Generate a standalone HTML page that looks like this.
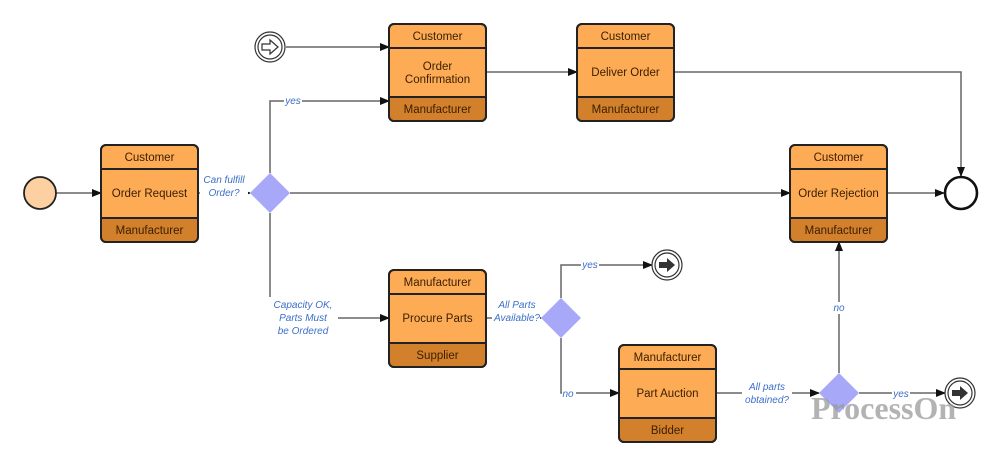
<!DOCTYPE html>
<html><head><meta charset="utf-8"><style>
html,body{margin:0;padding:0;background:#fff;}
svg{display:block;}
.t{font-family:"Liberation Sans",sans-serif;font-size:11.5px;fill:#3a1e00;text-anchor:middle;}
.l{font-family:"Liberation Sans",sans-serif;font-size:10px;fill:#3b6fc8;font-style:italic;text-anchor:middle;}
.e{stroke:#666;stroke-width:1.5;fill:none;}
</style></head><body>
<svg width="1000" height="466" viewBox="0 0 1000 466" xmlns="http://www.w3.org/2000/svg">
<defs>
<marker id="a" markerWidth="10" markerHeight="8" refX="9" refY="4" orient="auto" markerUnits="userSpaceOnUse">
<path d="M0,0 L10,4 L0,8 z" fill="#111"/></marker>
<g id="box">
<rect x="0" y="0" width="97" height="97" rx="5" fill="#fdab55" stroke="#222" stroke-width="2"/>
<path d="M1,73 H96 V92 Q96,96 92,96 H5 Q1,96 1,92 Z" fill="#d2802c"/>
<rect x="0" y="0" width="97" height="97" rx="5" fill="none" stroke="#222" stroke-width="2"/>
<line x1="0" y1="24" x2="97" y2="24" stroke="#222" stroke-width="2"/>
<line x1="0" y1="73" x2="97" y2="73" stroke="#222" stroke-width="2"/>
</g>
</defs>

<path class="e" d="M56,193 H101" marker-end="url(#a)"/>
<path class="e" d="M197,193 H250" marker-end="url(#a)"/>
<path class="e" d="M270,173 V101 H389" marker-end="url(#a)"/>
<path class="e" d="M290,193 H790" marker-end="url(#a)"/>
<path class="e" d="M270,213 V318 H389" marker-end="url(#a)"/>
<path class="e" d="M286,47 H389" marker-end="url(#a)"/>
<path class="e" d="M486,72 H577" marker-end="url(#a)"/>
<path class="e" d="M674,72 H961 V176" marker-end="url(#a)"/>
<path class="e" d="M886,193 H944" marker-end="url(#a)"/>
<path class="e" d="M486,318 H541" marker-end="url(#a)"/>
<path class="e" d="M561,298 V265 H652" marker-end="url(#a)"/>
<path class="e" d="M561,338 V393 H619" marker-end="url(#a)"/>
<path class="e" d="M716,393 H819" marker-end="url(#a)"/>
<path class="e" d="M839,373 V242" marker-end="url(#a)"/>
<path class="e" d="M859,393 H945" marker-end="url(#a)"/>

<rect x="200" y="172" width="48" height="26" fill="#fff"/>
<text class="l" x="224" y="183">Can fulfill</text><text class="l" x="224" y="196">Order?</text>
<rect x="284" y="95" width="18" height="11" fill="#fff"/><text class="l" x="293" y="104">yes</text>
<rect x="268" y="297" width="70" height="40" fill="#fff"/>
<text class="l" x="303" y="308">Capacity OK,</text><text class="l" x="303" y="321">Parts Must</text><text class="l" x="303" y="334">be Ordered</text>
<rect x="492" y="297" width="48" height="26" fill="#fff"/>
<text class="l" x="517" y="308">All Parts</text><text class="l" x="517" y="321">Available?</text>
<rect x="581" y="259" width="18" height="11" fill="#fff"/><text class="l" x="590" y="268">yes</text>
<rect x="562" y="388" width="14" height="11" fill="#fff"/><text class="l" x="568" y="397">no</text>
<rect x="742" y="380" width="50" height="26" fill="#fff"/>
<text class="l" x="767" y="390">All parts</text><text class="l" x="767" y="403">obtained?</text>
<rect x="832" y="302" width="14" height="12" fill="#fff"/><text class="l" x="839" y="311">no</text>
<rect x="892" y="388" width="18" height="11" fill="#fff"/><text class="l" x="901" y="397">yes</text>

<use href="#box" x="101" y="145"/>
<text class="t" x="149.5" y="161">Customer</text><text class="t" x="149.5" y="197">Order Request</text><text class="t" x="149.5" y="234">Manufacturer</text>
<use href="#box" x="389" y="24"/>
<text class="t" x="437.5" y="40">Customer</text><text class="t" x="437.5" y="70">Order</text><text class="t" x="437.5" y="83">Confirmation</text><text class="t" x="437.5" y="113">Manufacturer</text>
<use href="#box" x="577" y="24"/>
<text class="t" x="625.5" y="40">Customer</text><text class="t" x="625.5" y="76">Deliver Order</text><text class="t" x="625.5" y="113">Manufacturer</text>
<use href="#box" x="790" y="145"/>
<text class="t" x="838.5" y="161">Customer</text><text class="t" x="838.5" y="197">Order Rejection</text><text class="t" x="838.5" y="234">Manufacturer</text>
<use href="#box" x="389" y="270"/>
<text class="t" x="437.5" y="286">Manufacturer</text><text class="t" x="437.5" y="322">Procure Parts</text><text class="t" x="437.5" y="359">Supplier</text>
<use href="#box" x="619" y="345"/>
<text class="t" x="667.5" y="361">Manufacturer</text><text class="t" x="667.5" y="397">Part Auction</text><text class="t" x="667.5" y="434">Bidder</text>

<path d="M270,173 L290,193 L270,213 L250,193 Z" fill="#a8a8f8"/>
<path d="M561,298 L581,318 L561,338 L541,318 Z" fill="#a8a8f8"/>
<path d="M839,373 L859,393 L839,413 L819,393 Z" fill="#a8a8f8"/>

<circle cx="40" cy="193" r="16" fill="#fdd0a2" stroke="#222" stroke-width="1.8"/>
<circle cx="961" cy="193" r="16" fill="#fff" stroke="#111" stroke-width="2.6"/>
<circle cx="270" cy="47" r="15" fill="#fff" stroke="#333" stroke-width="1.2"/>
<circle cx="270" cy="47" r="12" fill="#fff" stroke="#333" stroke-width="1.2"/>
<path d="M262,44 H270 V40 L278,47 L270,54 V50 H262 Z" fill="#fff" stroke="#333" stroke-width="1.2"/>
<circle cx="667" cy="265" r="15" fill="#fff" stroke="#333" stroke-width="1.2"/>
<circle cx="667" cy="265" r="12" fill="#fff" stroke="#333" stroke-width="1.2"/>
<path d="M659,262 H667 V258 L675,265 L667,272 V268 H659 Z" fill="#333"/>
<circle cx="960" cy="393" r="15" fill="#fff" stroke="#333" stroke-width="1.2"/>
<circle cx="960" cy="393" r="12" fill="#fff" stroke="#333" stroke-width="1.2"/>
<path d="M952,390 H960 V386 L968,393 L960,400 V396 H952 Z" fill="#333"/>

<text x="811" y="419" font-family="'Liberation Serif',serif" font-weight="bold" font-size="32" fill="#9a9a9a" fill-opacity="0.75">ProcessOn</text>
</svg>
</body></html>
